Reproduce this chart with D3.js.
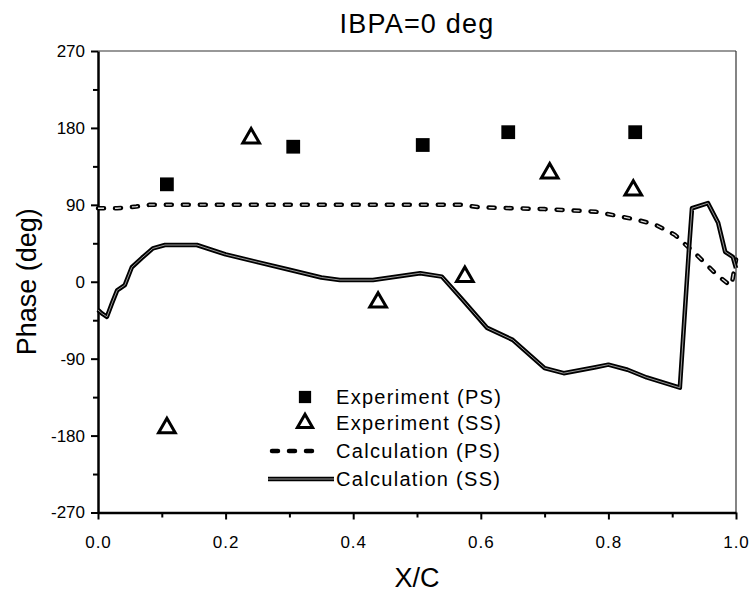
<!DOCTYPE html>
<html>
<head>
<meta charset="utf-8">
<script src="https://cdn.jsdelivr.net/npm/d3@7"></script>
<style>
  body { margin: 0; background: #fff; }
  svg { display: block; font-family: Arial, "Liberation Sans", sans-serif; }
</style>
</head>
<body>
<div id="chart"></div>
<script>
var width = 752, height = 593;
var mLeft = 98, mRight = 736, mTop = 51, mBottom = 512.5;

// experiment, pressure side (filled squares)
var expPsX = [0.108, 0.306, 0.509, 0.643, 0.842];
var expPsY = [114, 158, 160, 175, 175];

// experiment, suction side (open triangles)
var expSsX = [0.108, 0.24, 0.439, 0.575, 0.708, 0.839];
var expSsY = [-171, 168, -24, 6, 127, 107];

// calculation, pressure side (dashed)
var calcPsX = [0, 0.03, 0.06, 0.08, 0.2, 0.4, 0.57, 0.6, 0.7, 0.78, 0.842, 0.873, 0.904, 0.939, 0.97, 0.987, 0.993, 1.0];
var calcPsY = [86, 86, 88, 90, 90, 90, 90, 87, 85, 82, 73, 67, 55, 31, 8, -2, -4, 26];

// calculation, suction side (solid)
var calcSsX = [0, 0.006, 0.014, 0.022, 0.03, 0.042, 0.053, 0.069, 0.086, 0.105, 0.155, 0.2, 0.25, 0.3, 0.35, 0.379, 0.431, 0.505, 0.539, 0.57, 0.61, 0.65, 0.7, 0.73, 0.78, 0.8, 0.83, 0.86, 0.912, 0.926, 0.931, 0.956, 0.972, 0.983, 0.995, 1.0];
var calcSsY = [-33, -37, -41, -25, -10, -4, 17, 28, 39, 43, 43, 32, 23, 14, 5, 2, 2, 10, 6, -20, -54, -68, -101, -107, -100, -97, -103, -112, -124, 35, 86, 92, 69, 35, 29, 16];

var xTicks = [0, 0.2, 0.4, 0.6, 0.8, 1.0];
var yTicks = [-270, -180, -90, 0, 90, 180, 270];

var legendLabels = ["Experiment (PS)", "Experiment (SS)", "Calculation (PS)", "Calculation (SS)"];

var x = d3.scaleLinear().domain([0, 1]).range([mLeft, mRight]);
var y = d3.scaleLinear().domain([-270, 270]).range([mBottom, mTop]);

var svg = d3.select("#chart").append("svg")
    .attr("width", width)
    .attr("height", height);

// frame: thin top and right
svg.append("line")
    .attr("x1", mLeft).attr("x2", mRight).attr("y1", mTop).attr("y2", mTop)
    .attr("stroke", "#333").attr("stroke-width", 1.2);
svg.append("line")
    .attr("x1", mRight).attr("x2", mRight).attr("y1", mTop).attr("y2", mBottom)
    .attr("stroke", "#333").attr("stroke-width", 1.2);

// minor ticks
var xMinor = d3.axisBottom(x).tickValues(d3.range(0.1, 1, 0.2)).tickSize(5).tickFormat("");
var yMinor = d3.axisLeft(y).tickValues(d3.range(-225, 270, 90)).tickSize(5).tickFormat("");

svg.append("g").attr("transform", "translate(0," + mBottom + ")").call(xMinor)
    .call(function (g) { g.select(".domain").remove(); })
    .selectAll("line").attr("stroke-width", 2);
svg.append("g").attr("transform", "translate(" + mLeft + ",0)").call(yMinor)
    .call(function (g) { g.select(".domain").remove(); })
    .selectAll("line").attr("stroke-width", 2);

// major axes
var xAxis = svg.append("g")
    .attr("transform", "translate(0," + mBottom + ")")
    .call(d3.axisBottom(x).tickValues(xTicks).tickSize(7).tickSizeOuter(0).tickPadding(16)
        .tickFormat(d3.format(".1f")));
var yAxis = svg.append("g")
    .attr("transform", "translate(" + mLeft + ",0)")
    .call(d3.axisLeft(y).tickValues(yTicks).tickSize(7).tickSizeOuter(0).tickPadding(6)
        .tickFormat(function (d) { return d < 0 ? "-" + Math.abs(d) : d; }));

[xAxis, yAxis].forEach(function (a) {
    a.select(".domain").attr("stroke-width", 2.5);
    a.selectAll(".tick line").attr("stroke-width", 2);
    a.selectAll("text").attr("font-size", 17).attr("fill", "#000")
        .attr("font-family", "Arial, 'Liberation Sans', sans-serif");
});
xAxis.selectAll("text").attr("letter-spacing", 1);

// curves
var lineGen = d3.line()
    .x(function (d) { return x(d[0]); })
    .y(function (d) { return y(d[1]); });

var psData = d3.zip(calcPsX, calcPsY);
var ssData = d3.zip(calcSsX, calcSsY);

svg.append("path").datum(psData)
    .attr("d", lineGen).attr("fill", "none")
    .attr("stroke", "#000").attr("stroke-width", 4.5)
    .attr("stroke-linecap", "round").attr("stroke-dasharray", "6,11");
svg.append("path").datum(psData)
    .attr("d", lineGen).attr("fill", "none")
    .attr("stroke", "#ddd").attr("stroke-width", 1.3)
    .attr("stroke-dasharray", "6,11");

svg.append("path").datum(ssData)
    .attr("d", lineGen).attr("fill", "none")
    .attr("stroke", "#000").attr("stroke-width", 4.5)
    .attr("stroke-linejoin", "round");
svg.append("path").datum(ssData)
    .attr("d", lineGen).attr("fill", "none")
    .attr("stroke", "#999").attr("stroke-width", 1)
    .attr("stroke-linejoin", "round");

// markers
var square = d3.symbol().type(d3.symbolSquare).size(190);
var triangle = d3.symbol().type(d3.symbolTriangle).size(120);

svg.selectAll(".sq").data(d3.zip(expPsX, expPsY)).enter()
    .append("path").attr("class", "sq")
    .attr("d", square)
    .attr("transform", function (d) { return "translate(" + x(d[0]) + "," + y(d[1]) + ")"; })
    .attr("fill", "#000");

svg.selectAll(".tri").data(d3.zip(expSsX, expSsY)).enter()
    .append("path").attr("class", "tri")
    .attr("d", triangle)
    .attr("transform", function (d) { return "translate(" + x(d[0]) + "," + y(d[1]) + ")"; })
    .attr("fill", "#fff").attr("stroke", "#000").attr("stroke-width", 3)
    .attr("stroke-linejoin", "miter");

// legend
var lg = svg.append("g");
var rowY = [397, 423, 451, 479];
var textX = 336;

lg.append("path").attr("d", d3.symbol().type(d3.symbolSquare).size(150)())
    .attr("transform", "translate(305," + rowY[0] + ")").attr("fill", "#000");
lg.append("path").attr("d", d3.symbol().type(d3.symbolTriangle).size(100)())
    .attr("transform", "translate(305," + rowY[1] + ")")
    .attr("fill", "#fff").attr("stroke", "#000").attr("stroke-width", 3);
lg.append("line").attr("x1", 272).attr("x2", 322).attr("y1", rowY[2]).attr("y2", rowY[2])
    .attr("stroke", "#000").attr("stroke-width", 4.5)
    .attr("stroke-linecap", "round").attr("stroke-dasharray", "6,11");
lg.append("line").attr("x1", 268).attr("x2", 334).attr("y1", rowY[3]).attr("y2", rowY[3])
    .attr("stroke", "#000").attr("stroke-width", 4.5);
lg.append("line").attr("x1", 268).attr("x2", 334).attr("y1", rowY[3]).attr("y2", rowY[3])
    .attr("stroke", "#999").attr("stroke-width", 1);

lg.selectAll("text").data(legendLabels).enter().append("text")
    .attr("x", textX)
    .attr("y", function (d, i) { return rowY[i]; })
    .attr("dy", "0.35em")
    .attr("font-size", 20)
    .attr("letter-spacing", 1.3)
    .text(function (d) { return d; });

// titles
svg.append("text").attr("x", 417).attr("y", 33)
    .attr("text-anchor", "middle").attr("font-size", 27)
    .attr("letter-spacing", 1.2)
    .text("IBPA=0 deg");

svg.append("text").attr("x", 417).attr("y", 587)
    .attr("text-anchor", "middle").attr("font-size", 27)
    .text("X/C");

svg.append("text")
    .attr("transform", "translate(36," + ((mTop + mBottom) / 2) + ") rotate(-90)")
    .attr("text-anchor", "middle").attr("font-size", 27)
    .text("Phase (deg)");
</script>
</body>
</html>
